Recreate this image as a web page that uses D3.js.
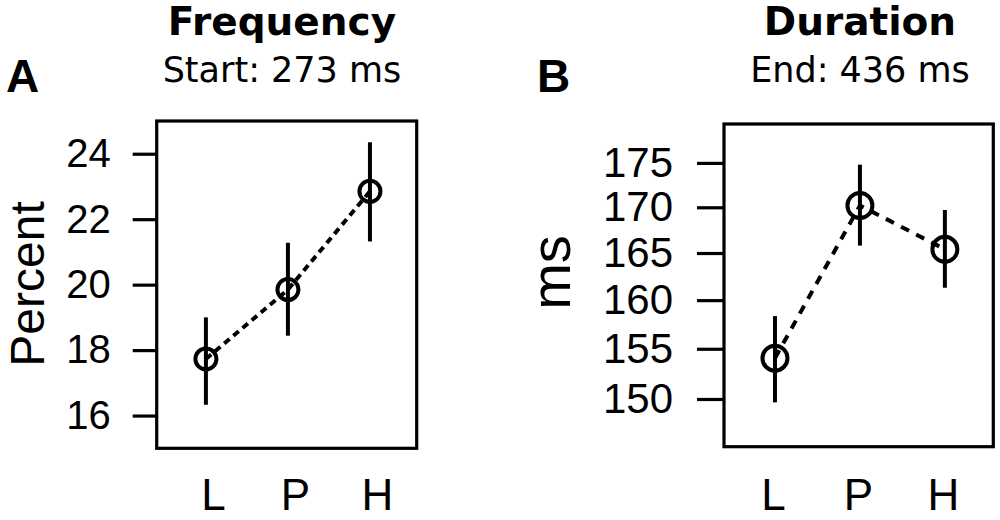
<!DOCTYPE html>
<html>
<head>
<meta charset="utf-8">
<script src="https://cdn.jsdelivr.net/npm/d3@7"></script>
<style>
  html, body { margin: 0; padding: 0; background: #fff; }
  svg { display: block; }
</style>
</head>
<body>
<svg id="chart" width="1000" height="520"></svg>
<script>
// ---- data ----
const categories = ["L", "P", "H"];
const freqMean = [17.73, 19.85, 22.85];
const freqLow  = [16.33, 18.44, 21.32];
const freqHigh = [19.0, 21.28, 24.35];
const durMean = [154.05, 170.2, 165.4];
const durLow  = [149.67, 165.8, 161.3];
const durHigh = [158.34, 174.8, 169.7];
const freqTicks = [16, 18, 20, 22, 24];
const durTicks = [150, 155, 160, 165, 170, 175];

const svg = d3.select("#chart");
svg.append("rect").attr("width", 1000).attr("height", 520).attr("fill", "#fff");

const SANS = "'Liberation Sans', Arial, Helvetica, sans-serif";
const DEJA = "'DejaVu Sans', Verdana, sans-serif";

function panel(cfg) {
  const g = svg.append("g");
  const x = d3.scaleLinear().domain([0.4, 3.57]).range([cfg.left, cfg.right]);
  const y = cfg.y;
  const idx = categories.map((c, i) => i + 1);

  // y axis
  const ax = g.append("g")
    .attr("transform", `translate(${cfg.left},0)`)
    .call(d3.axisLeft(y).tickValues(cfg.ticks).tickFormat(d3.format("d"))
      .tickSize(cfg.tickLen).tickSizeOuter(0).tickPadding(cfg.tickPad));
  ax.select(".domain").remove();
  ax.selectAll(".tick line").attr("stroke", "#000").attr("stroke-width", 3.2);
  ax.selectAll(".tick text").attr("fill", "#000")
    .style("font-family", SANS).style("font-size", cfg.tickFont + "px");

  // x axis labels
  const bx = g.append("g")
    .attr("transform", `translate(0,${cfg.bottom})`)
    .call(d3.axisBottom(x).tickValues(idx).tickFormat((d) => categories[d - 1]).tickSize(0));
  bx.select(".domain").remove();
  bx.selectAll(".tick text").attr("fill", "#000")
    .attr("y", cfg.xLabOff).attr("dy", 0).attr("dx", cfg.xLabDx)
    .style("font-family", SANS).style("font-size", cfg.xFont + "px");

  // box
  g.append("rect")
    .attr("x", cfg.left).attr("y", cfg.top)
    .attr("width", cfg.right - cfg.left).attr("height", cfg.bottom - cfg.top)
    .attr("fill", "none").attr("stroke", "#000").attr("stroke-width", 3.2);

  // dashed connecting line
  const line = d3.line().x((d, i) => x(i + 1)).y((d) => y(d));
  g.append("path").datum(cfg.mean).attr("d", line)
    .attr("fill", "none").attr("stroke", "#000").attr("stroke-width", 4)
    .attr("stroke-dasharray", cfg.dash);

  // error bars
  g.selectAll(".err").data(cfg.mean).enter().append("line")
    .attr("x1", (d, i) => x(i + 1)).attr("x2", (d, i) => x(i + 1))
    .attr("y1", (d, i) => y(cfg.low[i])).attr("y2", (d, i) => y(cfg.high[i]))
    .attr("stroke", "#000").attr("stroke-width", 4);

  // points
  g.selectAll(".pt").data(cfg.mean).enter().append("circle")
    .attr("cx", (d, i) => x(i + 1)).attr("cy", (d) => y(d))
    .attr("r", cfg.r).attr("fill", "none").attr("stroke", "#000").attr("stroke-width", 4);

  // axis title
  g.append("text")
    .attr("transform", `translate(${cfg.labX},${cfg.labY}) rotate(-90)`)
    .attr("text-anchor", "middle")
    .style("font-family", SANS).style("font-size", cfg.labFont + "px")
    .text(cfg.label);

  // titles
  g.append("text").attr("x", cfg.titleX).attr("y", 35).attr("text-anchor", "middle")
    .style("font-family", DEJA).style("font-weight", "bold").style("font-size", "39px")
    .text(cfg.title);
  g.append("text").attr("x", cfg.titleX).attr("y", 81.5).attr("text-anchor", "middle")
    .style("font-family", DEJA).style("font-size", "35px")
    .text(cfg.subtitle);

  // panel letter
  g.append("text").attr("x", cfg.letterX).attr("y", 91.5)
    .style("font-family", SANS).style("font-weight", "bold").style("font-size", "46px")
    .text(cfg.letter);
}

panel({
  left: 156.7, right: 416.7, top: 121, bottom: 448.3,
  y: d3.scaleLinear().domain([15, 25]).range([448.3, 121]),
  ticks: freqTicks, tickLen: 24, tickPad: 22, tickFont: 40,
  xLabOff: 62, xLabDx: 7, xFont: 44,
  mean: freqMean, low: freqLow, high: freqHigh, r: 10.5, dash: "7,5",
  label: "Percent", labX: 43.5, labY: 284, labFont: 48,
  title: "Frequency", subtitle: "Start: 273 ms", titleX: 282,
  letter: "A", letterX: 6
});

panel({
  left: 724, right: 993.3, top: 124, bottom: 446.7,
  y: d3.scaleLog().domain([145.4, 179.5]).range([446.7, 124]),
  ticks: durTicks, tickLen: 27, tickPad: 24, tickFont: 42,
  xLabOff: 63.5, xLabDx: -2, xFont: 44,
  mean: durMean, low: durLow, high: durHigh, r: 12.5, dash: "9,8",
  label: "ms", labX: 570, labY: 272.5, labFont: 56,
  title: "Duration", subtitle: "End: 436 ms", titleX: 860,
  letter: "B", letterX: 537
});
</script>
</body>
</html>
